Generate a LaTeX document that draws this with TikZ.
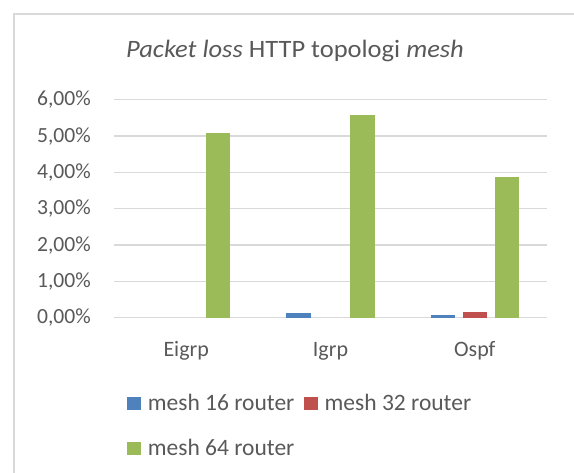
\documentclass[tikz,border=0pt]{standalone}
\usepackage{fontspec}
\setmainfont{Carlito}
\definecolor{txtgray}{HTML}{595959}
\definecolor{gridgray}{HTML}{D9D9D9}
\definecolor{sblue}{HTML}{4F81BD}
\definecolor{sred}{HTML}{C0504D}
\definecolor{sgreen}{HTML}{9BBB59}
\begin{document}
\begin{tikzpicture}[x=1pt,y=-1pt,
  lbl/.style={text=txtgray,font=\fontsize{22}{26}\selectfont,inner sep=0pt},
  axlbl/.style={text=txtgray,font=\fontsize{21.6}{26}\selectfont,inner sep=0pt},
  leglbl/.style={text=txtgray,font=\fontsize{23.5}{28}\selectfont,inner sep=0pt},
  ttl/.style={text=txtgray,font=\fontsize{25}{30}\selectfont,inner sep=0pt},
  gridline/.style={draw=gridgray,line width=1.3pt},
  frameline/.style={draw=gridgray,line width=1.8pt}]
\useasboundingbox (0,0) rectangle (574,473);
% chart frame
\draw[frameline] (14.3,473) -- (14.3,14.3) -- (574,14.3);
% title
\node[ttl,anchor=base] (title) at (295,57.5) {\scalebox{1.06}[1]{\textit{Packet loss} HTTP topologi \textit{mesh}}};
% gridlines and value axis labels
\foreach \k/\t in {0/{0,00\%},1/{1,00\%},2/{2,00\%},3/{3,00\%},4/{4,00\%},5/{5,00\%},6/{6,00\%}}{
  \draw[gridline] (114,{317.7-36.33*\k}) -- (547,{317.7-36.33*\k});
  \node[axlbl,anchor=east] (ylab\k) at (91,{317.7-36.33*\k}) {\t};
}
% bars (value in percent -> height)
\newcommand{\pbar}[3]{\fill[#3] ({#1-12.3},317.7) rectangle ({#1+12.3},{317.7-36.33*#2});}
\pbar{218}{5.09}{sgreen}
\pbar{298.5}{0.13}{sblue}
\pbar{362.5}{5.59}{sgreen}
\pbar{443}{0.08}{sblue}
\pbar{475}{0.17}{sred}
\pbar{507}{3.86}{sgreen}
% category labels
\node[lbl,anchor=base] (c1) at (186.2,356.7) {Eigrp};
\node[lbl,anchor=base] (c2) at (330.5,356.7) {Igrp};
\node[lbl,anchor=base] (c3) at (474.8,356.7) {Ospf};
% legend
\fill[sblue] (126.7,396.7) rectangle (140.7,410.3);
\node[leglbl,anchor=base west] (l1) at (147.7,410.3) {mesh 16 router};
\fill[sred] (304,396.7) rectangle (318,410.3);
\node[leglbl,anchor=base west] (l2) at (324.5,410.3) {mesh 32 router};
\fill[sgreen] (126.7,441.7) rectangle (140.7,455.3);
\node[leglbl,anchor=base west] (l3) at (147.7,455.3) {mesh 64 router};
\end{tikzpicture}
\end{document}
